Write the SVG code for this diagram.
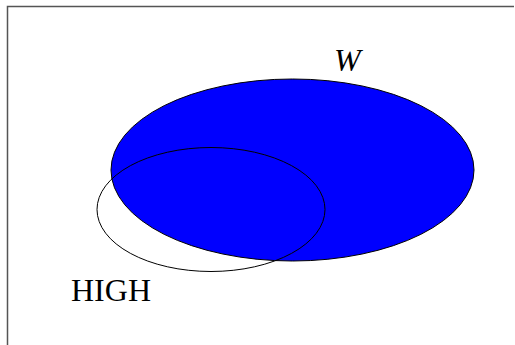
<svg xmlns="http://www.w3.org/2000/svg" width="515" height="345" viewBox="0 0 515 345">
<style>
.lbl{font-family:"Liberation Serif","Times New Roman",serif;font-size:32px;fill:#000}
</style>
<rect width="515" height="345" fill="#fff"/>
<g id="frame"><path d="M7.5,345 V6.5 H514" fill="none" stroke="#555" stroke-width="1.5"/></g>
<g id="W"><ellipse cx="292.5" cy="170" rx="181.5" ry="91" fill="#0000ff" stroke="#000" stroke-width="1"/>
<text class="lbl" x="334" y="71" font-style="italic">W</text></g>
<g id="HIGH"><ellipse cx="211" cy="209.5" rx="114" ry="62" fill="none" stroke="#000" stroke-width="1"/>
<text class="lbl" x="71" y="301">HIGH</text></g>
<g id="connectors"/>
</svg>
